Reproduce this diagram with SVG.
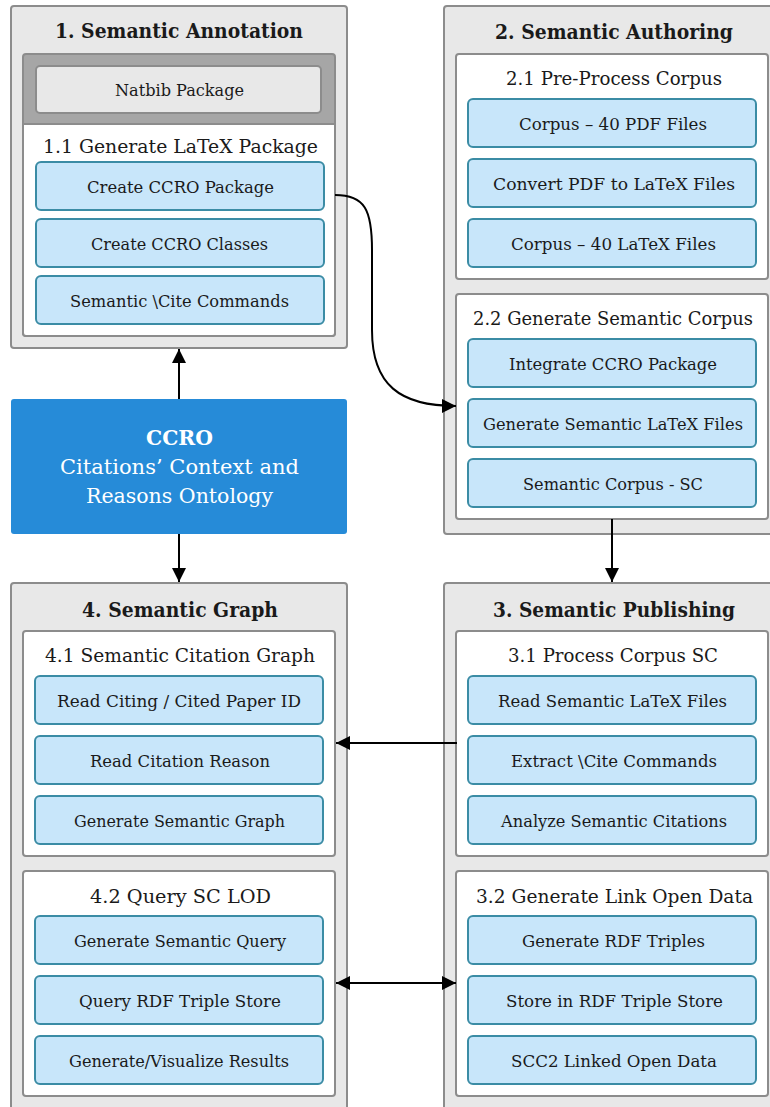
<svg xmlns="http://www.w3.org/2000/svg" width="770" height="1107" viewBox="0 0 770 1107" font-family="'DejaVu Serif', 'Liberation Serif', serif">
<style>
.panel{fill:#e8e8e8;stroke:#8c8c8c;stroke-width:2}
.sub{fill:#ffffff;stroke:#8c8c8c;stroke-width:2}
.dark{fill:#a6a6a6;stroke:#8c8c8c;stroke-width:2}
.gbtn{fill:#e8e8e8;stroke:#8c8c8c;stroke-width:2}
.item{fill:#c8e6fa;stroke:#3b8ca5;stroke-width:2}
.ccro{fill:#268bd8}
.tx{font-family:'DejaVu Serif','Liberation Serif',serif;fill:#1a1a1a}
.t{font-size:20px;font-weight:bold}
.s{font-size:18.5px}
.i{font-size:16.5px}
.w{fill:#ffffff;font-size:20px}
.conn{fill:none;stroke:#000;stroke-width:2}
</style>
<defs>
<marker id="ah" markerUnits="userSpaceOnUse" markerWidth="16" markerHeight="16" refX="14" refY="7" orient="auto-start-reverse">
<path d="M0,0 L14,7 L0,14 z" fill="#000"/>
</marker>
</defs>

<g id="panel1">
<rect class="panel" x="11" y="6" width="336" height="342" rx="3"/>
<text class="tx t" x="55" y="38" textLength="248" lengthAdjust="spacingAndGlyphs">1. Semantic Annotation</text>
<rect class="dark" x="23" y="54" width="312" height="282" rx="3"/>
<rect class="gbtn" x="36" y="66" width="285" height="47" rx="4"/>
<text class="tx i" x="115" y="96" textLength="129" lengthAdjust="spacingAndGlyphs">Natbib Package</text>
<path class="sub" d="M23,124 H335 V333 a3,3 0 0 1 -3,3 H26 a3,3 0 0 1 -3,-3 Z"/>
<text class="tx s" x="43" y="153" textLength="275" lengthAdjust="spacingAndGlyphs">1.1 Generate LaTeX Package</text>
<rect class="item" x="36" y="162" width="288" height="48" rx="5"/>
<text class="tx i" x="87" y="192.5" textLength="187" lengthAdjust="spacingAndGlyphs">Create CCRO Package</text>
<rect class="item" x="36" y="219" width="288" height="48" rx="5"/>
<text class="tx i" x="91" y="249.5" textLength="177" lengthAdjust="spacingAndGlyphs">Create CCRO Classes</text>
<rect class="item" x="36" y="276" width="288" height="48" rx="5"/>
<text class="tx i" x="70" y="306.5" textLength="219" lengthAdjust="spacingAndGlyphs">Semantic \Cite Commands</text>
</g>

<g id="panel2">
<rect class="panel" x="444" y="6" width="340" height="528" rx="3"/>
<text class="tx t" x="495" y="38.5" textLength="238" lengthAdjust="spacingAndGlyphs">2. Semantic Authoring</text>
<rect class="sub" x="456" y="54" width="312" height="225" rx="3"/>
<text class="tx s" x="506" y="85" textLength="216" lengthAdjust="spacingAndGlyphs">2.1 Pre-Process Corpus</text>
<rect class="item" x="468" y="99" width="288" height="48" rx="5"/>
<text class="tx i" x="519" y="129.5" textLength="188" lengthAdjust="spacingAndGlyphs">Corpus – 40 PDF Files</text>
<rect class="item" x="468" y="159" width="288" height="48" rx="5"/>
<text class="tx i" x="493" y="189.5" textLength="242" lengthAdjust="spacingAndGlyphs">Convert PDF to LaTeX Files</text>
<rect class="item" x="468" y="219" width="288" height="48" rx="5"/>
<text class="tx i" x="511" y="249.5" textLength="205" lengthAdjust="spacingAndGlyphs">Corpus – 40 LaTeX Files</text>
<rect class="sub" x="456" y="294" width="312" height="225" rx="3"/>
<text class="tx s" x="473" y="325" textLength="280" lengthAdjust="spacingAndGlyphs">2.2 Generate Semantic Corpus</text>
<rect class="item" x="468" y="339" width="288" height="48" rx="5"/>
<text class="tx i" x="509" y="369.5" textLength="208" lengthAdjust="spacingAndGlyphs">Integrate CCRO Package</text>
<rect class="item" x="468" y="399" width="288" height="48" rx="5"/>
<text class="tx i" x="483" y="429.5" textLength="260" lengthAdjust="spacingAndGlyphs">Generate Semantic LaTeX Files</text>
<rect class="item" x="468" y="459" width="288" height="48" rx="5"/>
<text class="tx i" x="523" y="489.5" textLength="180" lengthAdjust="spacingAndGlyphs">Semantic Corpus - SC</text>
</g>

<g id="ccro">
<rect class="ccro" x="11" y="399" width="336" height="135" rx="3"/>
<text class="tx w" x="146" y="445" font-weight="bold" textLength="67" lengthAdjust="spacingAndGlyphs">CCRO</text>
<text class="tx w" x="60" y="474" textLength="239" lengthAdjust="spacingAndGlyphs">Citations’ Context and</text>
<text class="tx w" x="86" y="503" textLength="187" lengthAdjust="spacingAndGlyphs">Reasons Ontology</text>
</g>

<g id="panel4">
<rect class="panel" x="11" y="583" width="336" height="535" rx="3"/>
<text class="tx t" x="82" y="616.5" textLength="196" lengthAdjust="spacingAndGlyphs">4. Semantic Graph</text>
<rect class="sub" x="23" y="631" width="312" height="225" rx="3"/>
<text class="tx s" x="45" y="662" textLength="270" lengthAdjust="spacingAndGlyphs">4.1 Semantic Citation Graph</text>
<rect class="item" x="35" y="676" width="288" height="48" rx="5"/>
<text class="tx i" x="57" y="706.5" textLength="244" lengthAdjust="spacingAndGlyphs">Read Citing / Cited Paper ID</text>
<rect class="item" x="35" y="736" width="288" height="48" rx="5"/>
<text class="tx i" x="90" y="766.5" textLength="180" lengthAdjust="spacingAndGlyphs">Read Citation Reason</text>
<rect class="item" x="35" y="796" width="288" height="48" rx="5"/>
<text class="tx i" x="74" y="826.5" textLength="211" lengthAdjust="spacingAndGlyphs">Generate Semantic Graph</text>
<rect class="sub" x="23" y="871" width="312" height="225" rx="3"/>
<text class="tx s" x="90" y="903" textLength="181" lengthAdjust="spacingAndGlyphs">4.2 Query SC LOD</text>
<rect class="item" x="35" y="916" width="288" height="48" rx="5"/>
<text class="tx i" x="74" y="946.5" textLength="212" lengthAdjust="spacingAndGlyphs">Generate Semantic Query</text>
<rect class="item" x="35" y="976" width="288" height="48" rx="5"/>
<text class="tx i" x="79" y="1006.5" textLength="202" lengthAdjust="spacingAndGlyphs">Query RDF Triple Store</text>
<rect class="item" x="35" y="1036" width="288" height="48" rx="5"/>
<text class="tx i" x="69" y="1066.5" textLength="220" lengthAdjust="spacingAndGlyphs">Generate/Visualize Results</text>
</g>

<g id="panel3">
<rect class="panel" x="444" y="583" width="340" height="535" rx="3"/>
<text class="tx t" x="493" y="616.5" textLength="242" lengthAdjust="spacingAndGlyphs">3. Semantic Publishing</text>
<rect class="sub" x="456" y="631" width="312" height="225" rx="3"/>
<text class="tx s" x="508" y="662" textLength="210" lengthAdjust="spacingAndGlyphs">3.1 Process Corpus SC</text>
<rect class="item" x="468" y="676" width="288" height="48" rx="5"/>
<text class="tx i" x="498" y="706.5" textLength="229" lengthAdjust="spacingAndGlyphs">Read Semantic LaTeX Files</text>
<rect class="item" x="468" y="736" width="288" height="48" rx="5"/>
<text class="tx i" x="511" y="766.5" textLength="206" lengthAdjust="spacingAndGlyphs">Extract \Cite Commands</text>
<rect class="item" x="468" y="796" width="288" height="48" rx="5"/>
<text class="tx i" x="501" y="826.5" textLength="226" lengthAdjust="spacingAndGlyphs">Analyze Semantic Citations</text>
<rect class="sub" x="456" y="871" width="312" height="225" rx="3"/>
<text class="tx s" x="476" y="903" textLength="277" lengthAdjust="spacingAndGlyphs">3.2 Generate Link Open Data</text>
<rect class="item" x="468" y="916" width="288" height="48" rx="5"/>
<text class="tx i" x="522" y="946.5" textLength="183" lengthAdjust="spacingAndGlyphs">Generate RDF Triples</text>
<rect class="item" x="468" y="976" width="288" height="48" rx="5"/>
<text class="tx i" x="506" y="1006.5" textLength="217" lengthAdjust="spacingAndGlyphs">Store in RDF Triple Store</text>
<rect class="item" x="468" y="1036" width="288" height="48" rx="5"/>
<text class="tx i" x="511" y="1066.5" textLength="206" lengthAdjust="spacingAndGlyphs">SCC2 Linked Open Data</text>
</g>

<g id="connectors">
<line class="conn" x1="179" y1="399" x2="179" y2="349" marker-end="url(#ah)"/>
<line class="conn" x1="179" y1="534" x2="179" y2="582" marker-end="url(#ah)"/>
<line class="conn" x1="612" y1="519" x2="612" y2="582" marker-end="url(#ah)"/>
<line class="conn" x1="457" y1="743" x2="336" y2="743" marker-end="url(#ah)"/>
<line class="conn" x1="336" y1="983" x2="456" y2="983" marker-start="url(#ah)" marker-end="url(#ah)"/>
<path class="conn" d="M335,195 C365,195 372,210 372,250 L372,330 C372,385 400,406 456,406" marker-end="url(#ah)"/>
</g>
</svg>
